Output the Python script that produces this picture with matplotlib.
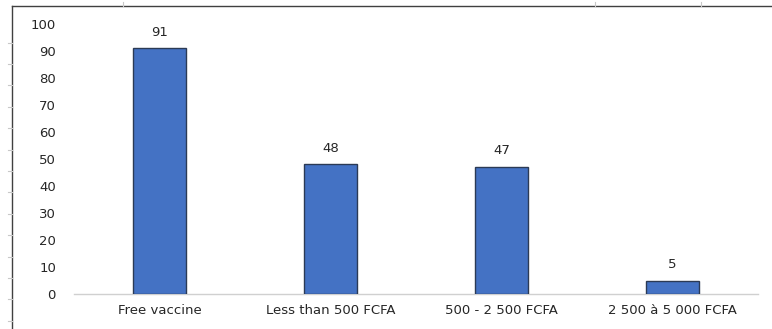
import matplotlib.pyplot as plt
from matplotlib.lines import Line2D

categories = ['Free vaccine', 'Less than 500 FCFA', '500 - 2 500 FCFA', '2 500 à 5 000 FCFA']
values = [91, 48, 47, 5]
y_ticks = [0, 10, 20, 30, 40, 50, 60, 70, 80, 90, 100]

W, H = 772, 329
fig = plt.figure(figsize=(W / 100, H / 100), dpi=100)
fig.patch.set_facecolor('white')

# outer frame: left and top borders with small marks
fig.add_artist(Line2D([12 / W, 12 / W], [0, 1 - 6 / H], color='#404040', lw=1.0))
fig.add_artist(Line2D([12 / W, 1], [1 - 6 / H, 1 - 6 / H], color='#404040', lw=1.0))
for yy in [43, 64, 85, 107, 128, 150, 171, 192, 214, 235, 257, 278, 299, 321]:
    fig.add_artist(Line2D([8 / W, 12 / W], [1 - yy / H, 1 - yy / H], color='#c8c8c8', lw=0.8))
for xx in [123, 595, 701]:
    fig.add_artist(Line2D([xx / W, xx / W], [1 - 2 / H, 1 - 6 / H], color='#c8c8c8', lw=0.8))

ax = fig.add_axes([74 / W, 1 - 294 / H, (758 - 74) / W, (294 - 24) / H])
x = range(len(categories))
bars = ax.bar(x, values, width=0.31, color='#4472C4', edgecolor='#2b3a55', linewidth=1.0, zorder=3)
for b, v in zip(bars, values):
    ax.annotate(str(v), (b.get_x() + b.get_width() / 2, v), xytext=(0, 7),
                textcoords='offset points', ha='center', va='bottom', fontsize=9.5, color='#262626')

ax.set_xlim(-0.5, 3.5)
ax.set_ylim(0, 100)
ax.set_yticks(y_ticks)
ax.set_xticks(list(x))
ax.set_xticklabels(categories)
ax.tick_params(axis='both', length=0, labelsize=9.5, colors='#262626')
ax.tick_params(axis='y', pad=13)
ax.tick_params(axis='x', pad=7)
for s in ['left', 'right', 'top']:
    ax.spines[s].set_visible(False)
ax.spines['bottom'].set_color('#d0d0d0')
ax.spines['bottom'].set_linewidth(1.0)

fig.savefig('out.png', dpi=100)
